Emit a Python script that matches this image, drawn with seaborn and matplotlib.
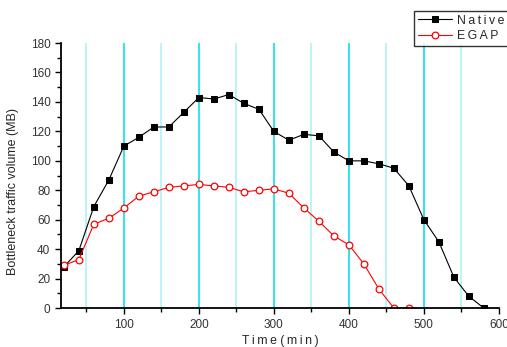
import numpy as np
import pandas as pd
import matplotlib
matplotlib.use("Agg")
import matplotlib.pyplot as plt
from matplotlib.ticker import MultipleLocator
import seaborn as sns

# %%
# values
time_native = [20, 40, 60, 80, 100, 120, 140, 160, 180, 200, 220, 240, 260, 280, 300,
               320, 340, 360, 380, 400, 420, 440, 460, 480, 500, 520, 540, 560, 580]
native = [28, 39, 69, 87, 110, 116, 123, 123, 133, 143, 142, 145, 139, 135, 120,
          114, 118, 117, 106, 100, 100, 98, 95, 83, 60, 45, 21, 8, 0]

time_egap = [20, 40, 60, 80, 100, 120, 140, 160, 180, 200, 220, 240, 260, 280, 300,
             320, 340, 360, 380, 400, 420, 440, 460, 480]
egap = [29, 33, 57, 61, 68, 76, 79, 82, 83, 84, 83, 82, 79, 80, 81,
        78, 68, 59, 49, 43, 30, 13, 0, 0]

grid_major = [100, 200, 300, 400, 500]
grid_minor = [50, 150, 250, 350, 450, 550]

df_native = pd.DataFrame({"time": time_native, "volume": native})
df_egap = pd.DataFrame({"time": time_egap, "volume": egap})

# letter-spaced text like the original (thin spaces between letters)
def spaced(s):
    return " ".join("\u2009".join(w) for w in s.split(" "))

# %%
sns.set_style("white")
plt.rcParams["font.family"] = ["Liberation Sans", "DejaVu Sans"]

fig = plt.figure(figsize = (5.07, 3.47), dpi = 100)
ax = fig.add_axes([0.120, 0.112, 0.864, 0.764])

# cyan vertical lines — darker at the hundreds, lighter in between
for g in grid_major:
    ax.axvline(g, color = "#22e2ea", linewidth = 1.3, zorder = 0)
for g in grid_minor:
    ax.axvline(g, color = "#a8f3f6", linewidth = 1.1, zorder = 0)

sns.lineplot(data = df_native, x = "time", y = "volume", ax = ax, color = "black",
             linewidth = 0.8, marker = "s", markersize = 4.6, markerfacecolor = "black",
             markeredgecolor = "black", label = "Native")
sns.lineplot(data = df_egap, x = "time", y = "volume", ax = ax, color = "red",
             linewidth = 0.8, marker = "o", markersize = 4.8, markerfacecolor = "white",
             markeredgecolor = "red", markeredgewidth = 0.9, label = "EGAP")

ax.set_xlim(16, 600)
ax.set_ylim(0, 180)
ax.xaxis.set_major_locator(MultipleLocator(100))
ax.xaxis.set_minor_locator(MultipleLocator(50))
ax.yaxis.set_major_locator(MultipleLocator(20))
ax.yaxis.set_minor_locator(MultipleLocator(10))
ax.set_xticks([100, 200, 300, 400, 500, 600])
ax.grid(False)

for s in ["top", "right"]:
    ax.spines[s].set_visible(False)
for s in ["left", "bottom"]:
    ax.spines[s].set_color("black")
    ax.spines[s].set_linewidth(1.3)

ax.tick_params(axis = "both", which = "major", direction = "out", length = 4.5, width = 1,
               labelsize = 8.5, colors = "black", labelcolor = "#333333", pad = 3)
ax.tick_params(axis = "both", which = "minor", direction = "out", length = 3, width = 1,
               colors = "black")
ax.tick_params(axis = "both", which = "both", bottom = True, left = True)

ax.set_xlabel(spaced("Time (min)"), fontsize = 8.8, labelpad = 3.5)
ax.set_ylabel("Bottleneck traffic volume (MB)", fontsize = 9)
ax.yaxis.set_label_coords(-0.095, 0.44)

ax.get_legend().remove()
leg = fig.legend(loc = "upper left", bbox_to_anchor = (0.817, 0.968), frameon = True,
                 fancybox = False, edgecolor = "black", fontsize = 8.8,
                 handlelength = 2.8, handletextpad = 0.4, borderpad = 0.3,
                 labelspacing = 0.3, borderaxespad = 0)
leg.get_frame().set_linewidth(1.0)
for t in leg.get_texts():
    t.set_text(spaced(t.get_text()))

fig.savefig("out.png", dpi = 100)
